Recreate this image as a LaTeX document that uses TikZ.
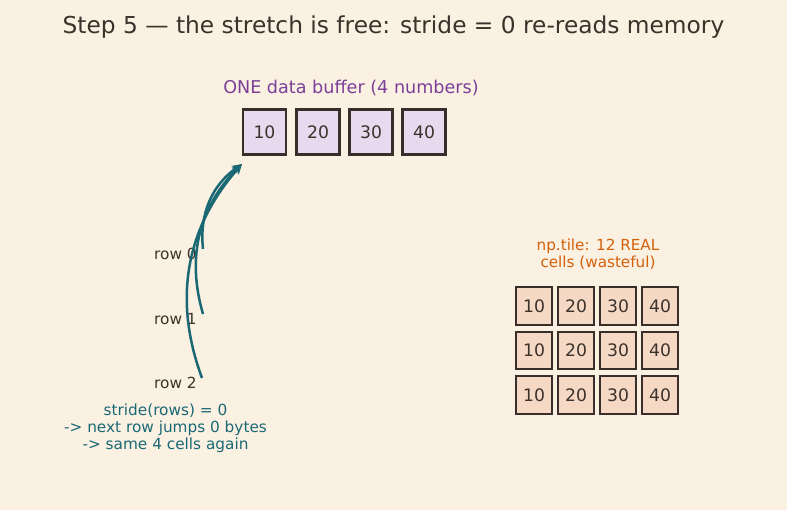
\documentclass[tikz,border=0pt]{standalone}
\usepackage{fontspec}
\setmainfont{DejaVu Sans}
\usetikzlibrary{calc,arrows.meta}
\definecolor{bg}{HTML}{FAF1E2}
\definecolor{ink}{HTML}{3B322C}
\definecolor{purp}{HTML}{7B3F98}
\definecolor{orng}{HTML}{D4600C}
\definecolor{tealc}{HTML}{1B6875}
\definecolor{lav}{HTML}{E8DAEE}
\definecolor{peach}{HTML}{F6D9C5}
\definecolor{edge}{HTML}{3A2E2B}
\tikzset{
  cellA/.style={draw=edge, line width=2.4pt, fill=lav, minimum width=43pt, minimum height=45pt, inner sep=0pt, text=ink, font=\fontsize{17.2}{19}\selectfont},
  cellB/.style={draw=edge, line width=2.4pt, fill=peach, minimum width=35.5pt, minimum height=37.5pt, inner sep=0pt, text=ink, font=\fontsize{17.2}{19}\selectfont},
  rowlab/.style={anchor=west, text=ink, inner sep=0pt, font=\fontsize{15.3}{17}\selectfont},
  arr/.style={draw=tealc, line width=2.5pt, -{Stealth[length=10pt,width=9pt]}},
}
\begin{document}
\begin{tikzpicture}[x=1pt,y=-1pt]
\fill[bg] (0,0) rectangle (787,510);
\useasboundingbox (0,0) rectangle (787,510);
\node[text=ink, font=\fontsize{23.3}{27}\selectfont] (title) at (393.5,27.5) {Step 5 — the stretch is free: stride = 0 re-reads memory};
\node[text=purp, font=\fontsize{17.6}{20}\selectfont] (buflab) at (351,88) {ONE data buffer (4 numbers)};
\node[cellA] (b1) at (264.5,132) {10};
\node[cellA] (b2) at (318,132) {20};
\node[cellA] (b3) at (371,132) {30};
\node[cellA] (b4) at (424,132) {40};
\node[text=orng, align=center, font=\fontsize{15.2}{17}\selectfont] (tilelab) at (598,254.5) {np.tile: 12 REAL\\cells (wasteful)};
\foreach \r/\y in {1/306,2/350.5,3/395} {
  \node[cellB] (t\r a) at (534,\y) {10};
  \node[cellB] (t\r b) at (576,\y) {20};
  \node[cellB] (t\r c) at (618,\y) {30};
  \node[cellB] (t\r d) at (660,\y) {40};
}
\node[rowlab] (r0) at (154,254) {row 0};
\node[rowlab] (r1) at (154,319) {row 1};
\node[rowlab] (r2) at (154,383) {row 2};
\node[text=tealc, align=center, font=\fontsize{15.3}{17}\selectfont] (note) at (165.5,428) {stride(rows) = 0\\-> next row jumps 0 bytes\\-> same 4 cells again};
\coordinate (tip) at (242,164);
\coordinate (s0) at (203,249);
\coordinate (s1) at (203,314);
\coordinate (s2) at (202,378);
\coordinate (c0) at (197.3,195.3);
\coordinate (c1) at (177.8,227.8);
\coordinate (c2) at (158.1,259.5);
\foreach \i in {0,1,2} {
  \draw[arr] (s\i) .. controls ($(s\i)!2/3!(c\i)$) and ($(tip)!2/3!(c\i)$) .. (tip);
}
\end{tikzpicture}
\end{document}
